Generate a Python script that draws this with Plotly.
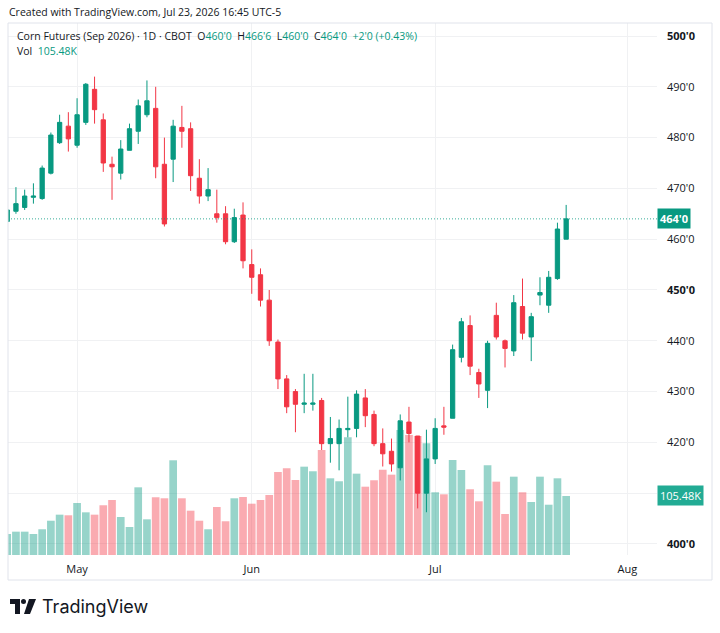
import plotly.graph_objects as go

# ---------------- data ----------------
dates = [
    "2026-04-21", "2026-04-22", "2026-04-23", "2026-04-24", "2026-04-27", "2026-04-28", "2026-04-29", "2026-04-30",
    "2026-05-01", "2026-05-04", "2026-05-05", "2026-05-06", "2026-05-07", "2026-05-08", "2026-05-11", "2026-05-12",
    "2026-05-13", "2026-05-14", "2026-05-15", "2026-05-18", "2026-05-19", "2026-05-20", "2026-05-21", "2026-05-22",
    "2026-05-26", "2026-05-27", "2026-05-28", "2026-05-29",
    "2026-06-01", "2026-06-02", "2026-06-03", "2026-06-04", "2026-06-05", "2026-06-08", "2026-06-09", "2026-06-10",
    "2026-06-11", "2026-06-12", "2026-06-15", "2026-06-16", "2026-06-17", "2026-06-18", "2026-06-22", "2026-06-23",
    "2026-06-24", "2026-06-25", "2026-06-26", "2026-06-29", "2026-06-30",
    "2026-07-01", "2026-07-02", "2026-07-06", "2026-07-07", "2026-07-08", "2026-07-09", "2026-07-10", "2026-07-13",
    "2026-07-14", "2026-07-15", "2026-07-16", "2026-07-17", "2026-07-20", "2026-07-21", "2026-07-22", "2026-07-23",
]
future_dates = ["2026-07-24", "2026-07-27", "2026-07-28", "2026-07-29", "2026-07-30", "2026-07-31", "2026-08-03"]

open_ = [463.5, 465.5, 466.25, 468.25, 468.0, 473.0, 479.0, 482.25, 478.5, 483.0, 489.5, 483.5, 474.75, 473.0,
         477.5, 481.25, 484.5, 485.75, 474.75, 475.75, 482.0, 481.75, 472.0, 468.5, 465.0, 465.0, 459.5, 464.75,
         455.0, 453.0, 448.0, 439.75, 432.5, 430.0, 427.5, 427.5, 428.25, 419.75, 419.75, 422.5, 422.75, 428.75,
         425.5, 419.75, 418.25, 415.0, 424.0, 421.25, 410.0, 416.75, 423.25, 424.75, 436.75, 443.0, 433.75, 430.25,
         445.0, 440.0, 438.0, 446.75, 440.75, 449.0, 447.0, 452.25, 460.0]
high = [466.0, 470.25, 469.75, 471.0, 474.5, 481.0, 484.5, 485.0, 487.75, 490.75, 492.0, 484.75, 476.25, 479.5,
        482.75, 487.5, 491.25, 490.0, 480.0, 483.5, 486.25, 483.0, 475.75, 474.0, 469.75, 466.5, 466.0, 467.25,
        458.0, 454.25, 450.0, 440.25, 433.25, 430.5, 433.5, 433.5, 428.75, 425.0, 424.5, 429.0, 430.25, 430.5,
        426.25, 422.75, 420.75, 425.5, 427.0, 421.25, 422.5, 424.75, 427.0, 439.25, 444.5, 445.0, 434.5, 440.0,
        447.5, 440.25, 449.0, 452.25, 445.5, 452.5, 453.75, 463.25, 466.75]
low = [463.25, 465.0, 465.75, 467.0, 467.75, 472.75, 478.75, 477.25, 478.0, 482.5, 482.75, 473.25, 467.75, 471.75,
       477.5, 478.75, 484.0, 472.0, 462.5, 471.25, 478.0, 469.5, 467.0, 467.5, 463.25, 459.0, 459.25, 454.25,
       449.25, 446.75, 439.0, 430.5, 425.75, 422.0, 425.75, 426.25, 418.5, 416.0, 414.5, 421.0, 421.0, 423.0,
       419.25, 415.25, 414.25, 412.5, 420.0, 407.0, 406.25, 415.75, 421.5, 424.75, 435.75, 433.25, 428.75, 426.75,
       440.25, 434.75, 437.0, 440.25, 436.0, 447.0, 445.5, 452.0, 460.0]
close = [465.75, 467.0, 468.5, 468.5, 474.0, 480.5, 483.0, 479.75, 484.5, 490.5, 485.5, 475.0, 474.25, 477.75,
         481.75, 486.25, 487.25, 474.25, 463.0, 482.25, 481.25, 472.5, 468.5, 469.75, 464.25, 459.5, 464.25, 455.75,
         452.5, 448.0, 440.0, 432.5, 427.0, 427.5, 427.75, 427.75, 419.75, 420.75, 422.75, 422.75, 429.5, 425.25,
         419.75, 417.75, 415.75, 424.25, 421.75, 410.0, 416.75, 422.75, 423.0, 438.25, 443.75, 435.0, 431.5, 439.5,
         440.75, 438.5, 447.5, 441.5, 444.75, 449.5, 452.5, 462.0, 464.0]
volume_k = [37.5, 41.7, 41.7, 37.5, 46.0, 61.3, 72.1, 71.0, 93.0, 76.3, 72.1, 88.9, 98.3, 67.9, 50.1, 121.0,
            63.8, 103.2, 101.4, 169.3, 101.4, 79.2, 61.3, 46.0, 85.8, 60.3, 101.4, 103.7, 91.7, 98.3, 107.3, 148.4,
            155.0, 134.1, 157.9, 149.7, 187.7, 137.1, 131.8, 210.4, 145.4, 122.1, 133.6, 152.5, 143.6, 223.5, 214.6,
            212.8, 199.7, 112.1, 108.5, 169.9, 152.0, 117.5, 96.0, 160.4, 131.1, 73.3, 140.0, 112.1, 94.8, 140.0,
            89.9, 137.1, 105.48]

price_ticks = [400, 410, 420, 430, 440, 450, 460, 470, 480, 490, 500]
bold_ticks = [400, 450, 500]
hidden_ticks = [410]  # covered by the volume tag
month_labels = ["May", "Jun", "Jul", "Aug"]
month_first_days = ["2026-05-01", "2026-06-01", "2026-07-01", "2026-08-03"]

# ---------------- style ----------------
UP = "#089981"
DOWN = "#F23645"
VOL_UP = "rgba(8,153,129,0.42)"
VOL_DOWN = "rgba(242,54,69,0.42)"
GRID = "#f0f1f3"
TEXT = "#131722"
FONT = "Open Sans"

W, H = 720, 633
L, R, T, B = 8, 63, 23, 78
PW, PH = W - L - R, H - T - B


def px(xp):
    return (xp - L) / PW


def py(yp):
    return (H - B - yp) / PH


all_days = dates + future_dates
xs = list(range(len(dates)))
month_idx = [all_days.index(d) for d in month_first_days]
vol_colors = [VOL_UP if c >= o else VOL_DOWN for o, c in zip(open_, close)]


def fmt(p):
    whole = int(p)
    eighths = int(round((p - whole) * 8))
    return f"{whole}'{eighths}"


def tick_label(v):
    if v in hidden_ticks:
        return ""
    if v in bold_ticks:
        return f"<b>{v}'0</b>"
    return f"{v}'0"


fig = go.Figure()
fig.add_trace(go.Bar(x=xs, y=volume_k, marker=dict(color=vol_colors, line=dict(width=0)),
                     yaxis="y", xaxis="x", showlegend=False, hoverinfo="skip"))
fig.add_trace(go.Candlestick(
    x=xs, open=open_, high=high, low=low, close=close,
    increasing=dict(line=dict(color=UP, width=1), fillcolor=UP),
    decreasing=dict(line=dict(color=DOWN, width=1), fillcolor=DOWN),
    yaxis="y2", xaxis="x", showlegend=False, whiskerwidth=0,
))

last_c = close[-1]
prev_c = close[-2]
chg = last_c - prev_c

fig.update_layout(
    width=W, height=H,
    margin=dict(l=L, r=R, t=T, b=B),
    paper_bgcolor="white", plot_bgcolor="white",
    font=dict(family=FONT, size=11, color=TEXT),
    bargap=0.12,
    xaxis=dict(range=[0.09, 74.4], tickvals=month_idx, ticktext=month_labels,
               showgrid=True, gridcolor=GRID, gridwidth=1, zeroline=False, showline=False,
               ticks="", ticklabelstandoff=6, rangeslider=dict(visible=False),
               tickfont=dict(size=11, color=TEXT)),
    yaxis=dict(range=[0, 951], visible=False, showgrid=False, fixedrange=True),
    yaxis2=dict(overlaying="y", side="right", range=[397.83, 502.56],
                tickvals=price_ticks,
                ticktext=[tick_label(v) for v in price_ticks],
                showgrid=True, gridcolor=GRID, gridwidth=1, zeroline=False, showline=False,
                ticks="", ticklabelstandoff=9, tickfont=dict(size=11, color=TEXT)),
)

# last price dotted line
fig.add_shape(type="line", xref="paper", yref="y2", x0=0, x1=1, y0=last_c, y1=last_c,
              line=dict(color="rgba(8,153,129,0.8)", width=1, dash="1px,2px"))

# outer frame
fig.add_shape(type="rect", xref="paper", yref="paper", x0=px(8), x1=px(712), y0=py(580), y1=py(23),
              line=dict(color="#e0e3eb", width=1), layer="above")

# price tag
fig.add_annotation(xref="paper", yref="y2", x=1.0, y=last_c, xanchor="left", yanchor="middle",
                   text=f"<b>{fmt(last_c)}</b>", showarrow=False, bgcolor=UP, borderpad=2,
                   font=dict(color="white", size=11))
# volume tag
fig.add_annotation(xref="paper", yref="y", x=1.0, y=volume_k[-1], xanchor="left", yanchor="middle",
                   text=f"{volume_k[-1]:.2f}K", showarrow=False, bgcolor="#22ab94", borderpad=2,
                   font=dict(color="white", size=11))

# top "created with"
fig.add_annotation(xref="paper", yref="paper", x=px(7), y=py(12), xanchor="left", yanchor="middle",
                   text="Created with TradingView.com, Jul 23, 2026 16:45 UTC-5", showarrow=False,
                   font=dict(size=10.5, color=TEXT))

g = lambda s: f"<span style='color:{UP}'>{s}</span>"
header = (f"Corn Futures (Sep 2026) · 1D · CBOT  O{g(fmt(open_[-1]))}  H{g(fmt(high[-1]))}  "
          f"L{g(fmt(low[-1]))}  C{g(fmt(last_c))}  {g('+' + fmt(chg) + ' (+%.2f%%)' % (chg / prev_c * 100))}")
fig.add_annotation(xref="paper", yref="paper", x=px(15), y=py(36), xanchor="left", yanchor="middle",
                   text=header, showarrow=False, font=dict(size=10.5, color=TEXT))
fig.add_annotation(xref="paper", yref="paper", x=px(15), y=py(51), xanchor="left", yanchor="middle",
                   text=f"Vol  {g('%.2fK' % volume_k[-1])}", showarrow=False, font=dict(size=10.5, color=TEXT))

# TradingView logo
LOGO = "#131722"
fig.add_shape(type="path", xref="paper", yref="paper", layer="above",
              path=(f"M {px(10)} {py(599)} L {px(20)} {py(599)} L {px(20)} {py(614)} L {px(15)} {py(614)} "
                    f"L {px(15)} {py(604)} L {px(10)} {py(604)} Z"),
              fillcolor=LOGO, line=dict(width=0))
fig.add_shape(type="circle", xref="paper", yref="paper", layer="above",
              x0=px(21), x1=px(26), y0=py(604), y1=py(599), fillcolor=LOGO, line=dict(width=0))
fig.add_shape(type="path", xref="paper", yref="paper", layer="above",
              path=(f"M {px(29)} {py(599)} L {px(36)} {py(599)} L {px(30)} {py(614)} L {px(24)} {py(614)} Z"),
              fillcolor=LOGO, line=dict(width=0))
fig.add_annotation(xref="paper", yref="paper", x=px(40), y=py(606.5), xanchor="left", yanchor="middle",
                   text="TradingView", showarrow=False, font=dict(size=18, color=LOGO, family="Inter"))

fig.write_html("out.html")
